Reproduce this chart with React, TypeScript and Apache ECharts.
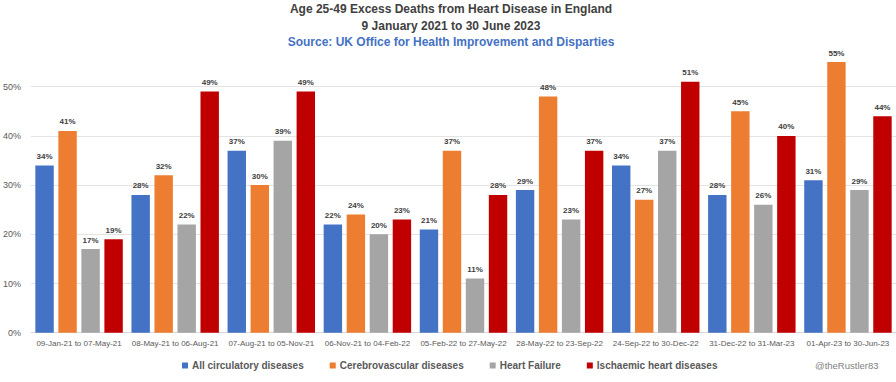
import React, { useEffect, useRef } from "react";
import * as echarts from "echarts";

const categories = [
  "09-Jan-21 to 07-May-21",
  "08-May-21 to 06-Aug-21",
  "07-Aug-21 to 05-Nov-21",
  "06-Nov-21 to 04-Feb-22",
  "05-Feb-22 to 27-May-22",
  "28-May-22 to 23-Sep-22",
  "24-Sep-22 to 30-Dec-22",
  "31-Dec-22 to 31-Mar-23",
  "01-Apr-23 to 30-Jun-23",
];
const allCirculatory = [34, 28, 37, 22, 21, 29, 34, 28, 31];
const cerebrovascular = [41, 32, 30, 24, 37, 48, 27, 45, 55];
const heartFailure = [17, 22, 39, 20, 11, 23, 37, 26, 29];
const ischaemic = [19, 49, 49, 23, 28, 37, 51, 40, 44];
const seriesNames = [
  "All circulatory diseases",
  "Cerebrovascular diseases",
  "Heart Failure",
  "Ischaemic heart diseases",
];
const seriesColors = ["#4472C4", "#ED7D31", "#A5A5A5", "#C00000"];

const FONT = "'Liberation Sans', Arial, sans-serif";

export default function App() {
  const ref = useRef<HTMLDivElement>(null);
  useEffect(() => {
    if (!ref.current) return;
    const chart = echarts.init(ref.current, undefined, { renderer: "svg" });
    const values = [allCirculatory, cerebrovascular, heartFailure, ischaemic];
    chart.setOption({
      animation: false,
      backgroundColor: "#ffffff",
      title: [
        {
          text: "Age 25-49 Excess Deaths from Heart Disease in England\n9 January 2021 to 30 June 2023",
          left: 451,
          textAlign: "center",
          top: 0,
          padding: 0,
          textStyle: { fontFamily: FONT, fontSize: 12, fontWeight: "bold", color: "#404040", lineHeight: 17 },
        },
        {
          text: "Source: UK Office for Health Improvement and Disparties",
          left: 451,
          textAlign: "center",
          top: 33.5,
          padding: 0,
          textStyle: { fontFamily: FONT, fontSize: 12, fontWeight: "bold", color: "#4472C4", lineHeight: 17 },
        },
      ],
      legend: {
        data: seriesNames,
        left: 182,
        top: 360.5,
        padding: 0,
        icon: "rect",
        itemWidth: 6,
        itemHeight: 6,
        itemGap: 26,
        textStyle: { fontFamily: FONT, fontSize: 10, fontWeight: "bold", color: "#595959", padding: [0, 0, 0, -1] },
      },
      graphic: [
        {
          type: "text",
          x: 815,
          y: 365.5,
          style: {
            text: "@theRustler83",
            fontFamily: FONT,
            fontSize: 9.5,
            fill: "#7f7f7f",
            verticalAlign: "middle",
          },
        },
      ],
      grid: { left: 29, right: 0, top: 37.5, bottom: 49.3 },
      xAxis: {
        type: "category",
        data: categories,
        axisLine: { lineStyle: { color: "#d9d9d9" } },
        axisTick: { show: false },
        axisLabel: { interval: 0, margin: 7, fontFamily: FONT, fontSize: 8, color: "#595959" },
      },
      yAxis: {
        type: "value",
        min: 0,
        max: 60,
        interval: 10,
        axisLine: { show: false },
        axisTick: { show: false },
        axisLabel: {
          margin: 10,
          fontFamily: FONT,
          fontSize: 9,
          color: "#595959",
          formatter: (v: number) => (v >= 60 ? "" : `${v}%`),
        },
        splitLine: {
          lineStyle: {
            color: ["#e4e4e4", "#e4e4e4", "#e4e4e4", "#e4e4e4", "#e4e4e4", "#e4e4e4", "rgba(0,0,0,0)"],
          },
        },
      },
      series: seriesNames.map((name, i) => ({
        name,
        type: "bar",
        data: values[i],
        barGap: "25%",
        barCategoryGap: "9%",
        itemStyle: { color: seriesColors[i] },
        label: {
          show: true,
          position: "top",
          distance: 5,
          formatter: "{c}%",
          fontFamily: FONT,
          fontSize: 8,
          fontWeight: "bold",
          color: "#404040",
        },
      })),
    });
    return () => chart.dispose();
  }, []);
  return (
    <div
      ref={ref}
      style={{ position: "absolute", left: 0, top: 0, width: 896, height: 382 }}
    />
  );
}
